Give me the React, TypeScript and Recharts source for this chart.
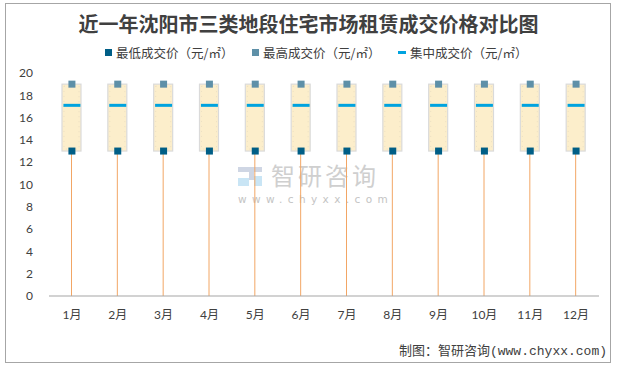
import React from "react";
import { Bar, ComposedChart, Line, XAxis, YAxis } from "recharts";

const months = ["1月", "2月", "3月", "4月", "5月", "6月", "7月", "8月", "9月", "10月", "11月", "12月"];
const lowPrice = [13, 13, 13, 13, 13, 13, 13, 13, 13, 13, 13, 13];
const highPrice = [19, 19, 19, 19, 19, 19, 19, 19, 19, 19, 19, 19];
const midPrice = [17.1, 17.1, 17.1, 17.1, 17.1, 17.1, 17.1, 17.1, 17.1, 17.1, 17.1, 17.1];
const yTicks = [0, 2, 4, 6, 8, 10, 12, 14, 16, 18, 20];

const legendItems = [
  { name: "最低成交价（元/㎡）", color: "#005E86", kind: "square", left: 105 },
  { name: "最高成交价（元/㎡）", color: "#5E90A8", kind: "square", left: 252 },
  { name: "集中成交价（元/㎡）", color: "#00A3DF", kind: "dash", left: 398 },
];

const data = months.map((m, i) => ({
  month: m,
  low: lowPrice[i],
  high: highPrice[i],
  mid: midPrice[i],
  spread: highPrice[i] - lowPrice[i],
}));

const CJK = "'Noto Sans CJK SC', sans-serif";
const TICK_FONT = "Lato, 'Noto Sans CJK SC', sans-serif";

// stem from 0 up to the low price
const StemShape = (props: any) => {
  const { x, y, width, height } = props;
  const cx = x + width / 2;
  return <line x1={cx} x2={cx} y1={y} y2={y + height} stroke="#F2A665" strokeWidth={1} />;
};

const BoxShape = (props: any) => {
  const { x, y, width, height } = props;
  return (
    <g>
      <rect x={x} y={y} width={width} height={height} fill="#FCEECB" stroke="#DADADA" strokeWidth={1.2} />
      <rect
        x={x + 2}
        y={y + 2}
        width={width - 4}
        height={height - 4}
        fill="none"
        stroke="#E8DCC0"
        strokeWidth={0.8}
        strokeDasharray="1 4"
      />
    </g>
  );
};

const squareDot = (color: string) => (props: any) => {
  const { cx, cy, index } = props;
  if (cx == null || cy == null) return <g key={index} />;
  return <rect key={index} x={cx - 3.5} y={cy - 3.5} width={7} height={7} fill={color} />;
};

const MidDot = (props: any) => {
  const { cx, cy, index } = props;
  if (cx == null || cy == null) return <g key={index} />;
  return <rect key={index} x={cx - 8.5} y={cy - 1.5} width={17} height={3} fill="#00A3DF" />;
};

export default function App() {
  return (
    <div
      style={{
        position: "absolute",
        left: 0,
        top: 0,
        width: 617,
        height: 368,
        background: "#fff",
        overflow: "hidden",
      }}
    >
      <div
        style={{
          position: "absolute",
          left: 5,
          top: 3,
          width: 606,
          height: 360,
          border: "1px solid #A6A6A6",
          boxSizing: "border-box",
        }}
      />
      {/* watermark */}
      <svg style={{ position: "absolute", left: 0, top: 0 }} width={617} height={368}>
        <g opacity={0.55}>
          <rect x={238} y={167} width={24} height={5} fill="#A9B6CF" />
          <rect x={249} y={172} width={5} height={8} fill="#A9B6CF" />
          <rect x={238} y={178} width={11} height={8} fill="#9ED0EE" />
          <rect x={254} y={176} width={8} height={10} fill="#9ED0EE" />
        </g>
        <text x={271} y={185} fontSize={24} fill="#CFCFCF" fontFamily={CJK} letterSpacing={3}>
          智研咨询
        </text>
        <text x={238} y={203} fontSize={10.5} fill="#C4C4C4" fontFamily="'DejaVu Sans', sans-serif" letterSpacing={5.4}>
          www.chyxx.com
        </text>
      </svg>
      <div
        style={{
          position: "absolute",
          left: 0,
          top: 10,
          width: 617,
          textAlign: "center",
          fontFamily: CJK,
          fontWeight: 700,
          fontSize: 20,
          lineHeight: "28px",
          color: "#404040",
        }}
      >
        近一年沈阳市三类地段住宅市场租赁成交价格对比图
      </div>
      {legendItems.map((it) => (
        <div
          key={it.name}
          style={{
            position: "absolute",
            left: it.left,
            top: 43,
            height: 18,
            display: "flex",
            alignItems: "center",
            fontFamily: CJK,
            fontSize: 12.5,
            color: "#404040",
            whiteSpace: "nowrap",
          }}
        >
          {it.kind === "square" ? (
            <span style={{ display: "inline-block", width: 7, height: 7, background: it.color, marginRight: 4 }} />
          ) : (
            <span style={{ display: "inline-block", width: 8, height: 3, background: it.color, marginRight: 4 }} />
          )}
          {it.name}
        </div>
      ))}
      <div style={{ position: "absolute", left: 0, top: 0 }}>
        <ComposedChart
          width={617}
          height={368}
          data={data}
          margin={{ top: 73, right: 18, bottom: 42, left: 9 }}
          barSize={19}
        >
          <XAxis
            dataKey="month"
            axisLine={{ stroke: "#A6A6A6", strokeWidth: 1.2 }}
            tickLine={false}
            height={30}
            tickMargin={8}
            tick={{ fill: "#404040", fontSize: 12, fontFamily: TICK_FONT }}
          />
          <YAxis
            domain={[0, 20]}
            ticks={yTicks}
            width={40}
            axisLine={false}
            tickLine={false}
            tickSize={0}
            tickMargin={16}
            tick={{ fill: "#404040", fontSize: 12, fontFamily: TICK_FONT }}
          />
          <Bar dataKey="low" stackId="a" shape={StemShape} isAnimationActive={false} />
          <Bar dataKey="spread" stackId="a" shape={BoxShape} isAnimationActive={false} />
          <Line dataKey="mid" stroke="none" dot={MidDot} activeDot={false} isAnimationActive={false} />
          <Line dataKey="high" stroke="none" dot={squareDot("#5E90A8")} activeDot={false} isAnimationActive={false} />
          <Line dataKey="low" stroke="none" dot={squareDot("#005E86")} activeDot={false} isAnimationActive={false} />
        </ComposedChart>
      </div>
      <div
        style={{
          position: "absolute",
          right: 10,
          top: 343,
          fontFamily: "'Liberation Mono', 'Noto Sans CJK SC', monospace",
          fontSize: 13,
          lineHeight: "18px",
          color: "#404040",
          whiteSpace: "nowrap",
        }}
      >
        制图：智研咨询(www.chyxx.com)
      </div>
    </div>
  );
}
